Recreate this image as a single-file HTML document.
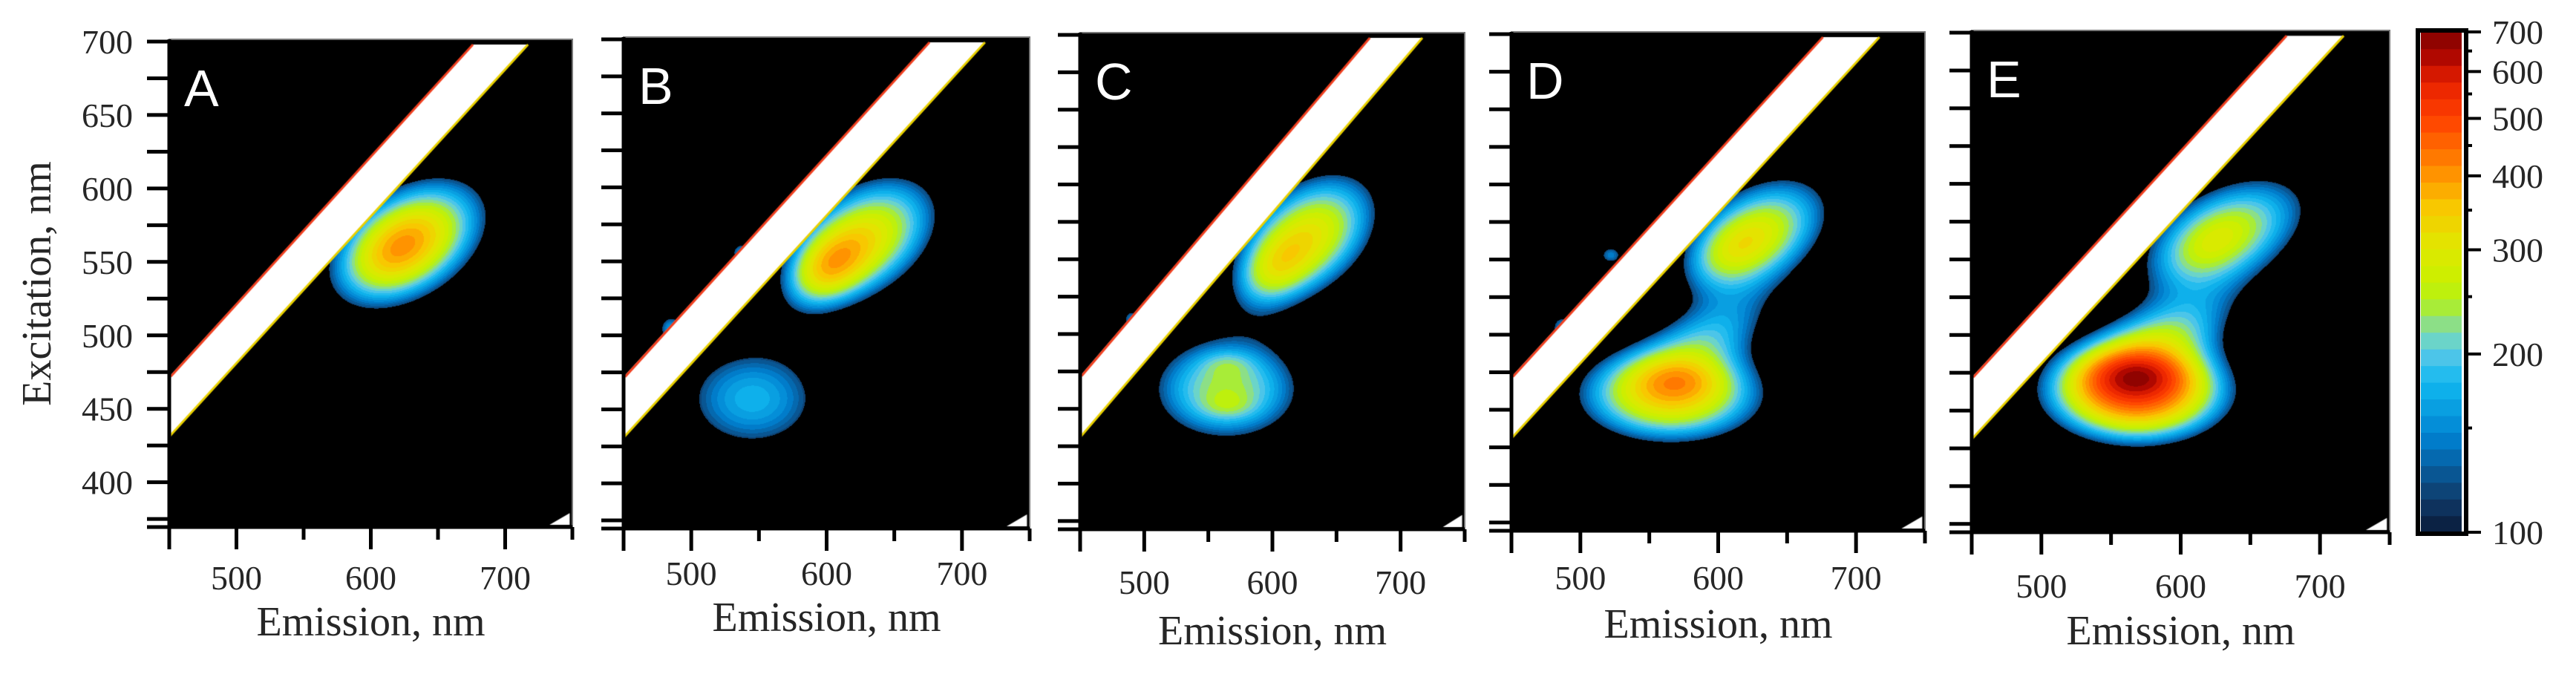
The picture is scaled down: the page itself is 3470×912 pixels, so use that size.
<!DOCTYPE html>
<html><head><meta charset="utf-8">
<style>
html,body{margin:0;padding:0;background:#fff;}
#wrap{position:relative;width:3470px;height:912px;overflow:hidden;background:#fff;}
canvas{position:absolute;}
svg{position:absolute;left:0;top:0;}
text{font-family:"Liberation Serif",serif;fill:#262626;}
</style></head>
<body>
<div id="wrap">
<svg id="ov" width="3470" height="912"></svg>
</div>
<script>
// ---- data ----
const panelNames = ['A','B','C','D','E'];
const xTickValues = [450,500,550,600,650,700,750];
const xTickLabels = ['500','600','700'];
const yTickValues = [375,400,425,450,475,500,525,550,575,600,625,650,675,700];
const yTickLabels = ['400','450','500','550','600','650','700'];
const cbTickValues = [100,150,200,250,300,350,400,450,500,550,600,650,700];
const cbTickLabels = ['100','200','300','400','500','600','700'];
const scatterLower = -19;   // Rayleigh band: excitation - emission offsets (nm)
const scatterUpper = 22;
// fluorescence components per panel (summed): emission centre, excitation centre, peak intensity, em width, ex width, tilt
const compEm  = [[628,618],
                 [628,600,545,537,485],
                 [628,600,564,565,565,490],
                 [628,610,566,571,595,522,487],
                 [632,620,569,568,590,540,495]];
const compEx  = [[563,558],
                 [565,545,457,556,505],
                 [565,542,463,480,452,510],
                 [566,556,460,470,500,553,505],
                 [566,560,463,473,500,550,505]];
const compAmp = [[330,80],
                 [300,170,175,140,140],
                 [300,110,240,35,35,130],
                 [270,70,330,80,130,140,140],
                 [250,50,480,180,150,150,140]];
const compWEm = [[40,22],
                 [38,20,44,7,8],
                 [38,20,44,14,14,7],
                 [38,20,46,22,35,8,8],
                 [44,20,42,22,38,9,8]];
const compWEx = [[28,16],
                 [28,16,30,6,8],
                 [28,16,26,6,6,7],
                 [26,14,22,10,18,6,8],
                 [26,14,22,10,18,6,8]];
const compTilt= [[0.3,0.3],
                 [0.3,0.3,0,0,0],
                 [0.3,0.3,0,0,0,0],
                 [0.3,0.3,0,0,0.3,0,0],
                 [0.3,0.3,0,0,0.3,0,0]];

// ---- layout ----
const frames = [
 {L:228,R:771,T:53,B:710,tl:68,el:128},
 {L:840,R:1387,T:50,B:712,tl:60,el:120},
 {L:1455,R:1973,T:44,B:713,tl:71,el:137},
 {L:2036,R:2593,T:43,B:715,tl:63,el:126},
 {L:2656,R:3219,T:41,B:717,tl:72,el:133}
];
const emMin=450, emMax=750, exMin=369.5, exMax=701.5;
const cb = {L:3261,R:3316,T:43,B:717};
const cbStops=[[0,'#0a1a38'],[0.07,'#0f3c6c'],[0.19,'#0080d0'],[0.3,'#10b8f0'],[0.36,'#58c8e8'],[0.39,'#70d8c0'],[0.42,'#90e080'],[0.46,'#b0f020'],[0.5,'#c8f000'],[0.57,'#e0e800'],[0.65,'#f8c800'],[0.71,'#ff9800'],[0.77,'#ff6a00'],[0.83,'#ff4000'],[0.9,'#e82000'],[0.95,'#b00800'],[1,'#800000']];
function hex(c){return [parseInt(c.substr(1,2),16),parseInt(c.substr(3,2),16),parseInt(c.substr(5,2),16)];}
const stopsRGB=cbStops.map(s=>[s[0],hex(s[1])]);
function tOf(v){return Math.log(v/100)/Math.log(7);}
function cmap(t){
  t=Math.max(0,Math.min(1,t));
  t=(Math.floor(t*30)+0.5)/30;
  for(let i=1;i<stopsRGB.length;i++){
    if(t<=stopsRGB[i][0]){const a=stopsRGB[i-1],b=stopsRGB[i];const f=(t-a[0])/(b[0]-a[0]);
      return [0,1,2].map(k=>Math.round(a[1][k]+(b[1][k]-a[1][k])*f));}
  }
  return stopsRGB[stopsRGB.length-1][1];
}
const NS='http://www.w3.org/2000/svg';
const ov=document.getElementById('ov');
function el(tag,attrs,parent){const e=document.createElementNS(NS,tag);for(const k in attrs)e.setAttribute(k,attrs[k]);(parent||ov).appendChild(e);return e;}
const wrap=document.getElementById('wrap');

frames.forEach((f,p)=>{
  const xs=v=>f.L+(v-emMin)/(emMax-emMin)*(f.R-f.L);
  const ys=v=>f.B-(v-exMin)/(exMax-exMin)*(f.B-f.T);
  const W=f.R-f.L, H=f.B-f.T;
  const cv=document.createElement('canvas');
  cv.width=W;cv.height=H;cv.style.left=f.L+'px';cv.style.top=f.T+'px';
  
  
  wrap.insertBefore(cv,ov);
  const ctx=cv.getContext('2d');
  const img=ctx.createImageData(W,H);
  for(let py=0;py<H;py++){
    const ex=exMax-(py+0.5)/H*(exMax-exMin);
    for(let px=0;px<W;px++){
      const em=emMin+(px+0.5)/W*(emMax-emMin);
      let v=0;
      for(let c=0;c<compEm[p].length;c++){
        const dem=em-compEm[p][c];
        const dex=(ex-compEx[p][c])-compTilt[p][c]*dem;
        const dx=dem/compWEm[p][c], dy=dex/compWEx[p][c];
        v+=compAmp[p][c]*Math.exp(-0.5*(dx*dx+dy*dy));
      }
      const i=(py*W+px)*4;
      if(v<118){img.data[i]=0;img.data[i+1]=0;img.data[i+2]=0;}
      else{const c=cmap(tOf(v));img.data[i]=c[0];img.data[i+1]=c[1];img.data[i+2]=c[2];}
      img.data[i+3]=255;
    }
  }
  ctx.putImageData(img,0,0);
  // Rayleigh scatter band
  const topEx=698;
  const pts=[[emMin,emMin+scatterLower],[topEx-scatterLower,topEx],[topEx-scatterUpper,topEx],[emMin,emMin+scatterUpper]];
  ctx.beginPath();
  pts.forEach((q,i)=>{const X=xs(q[0])-f.L,Y=ys(q[1])-f.T;i?ctx.lineTo(X,Y):ctx.moveTo(X,Y);});
  ctx.closePath();ctx.fillStyle='#fff';ctx.fill();
  ctx.lineWidth=3;
  ctx.strokeStyle='#f04020';ctx.beginPath();ctx.moveTo(xs(emMin)-f.L+2,ys(emMin+scatterUpper)-f.T);ctx.lineTo(xs(topEx-scatterUpper)-f.L,ys(topEx)-f.T);ctx.stroke();
  ctx.strokeStyle='#e8d000';ctx.beginPath();ctx.moveTo(xs(emMin)-f.L,ys(emMin+scatterLower)-f.T);ctx.lineTo(xs(topEx-scatterLower)-f.L,ys(topEx)-f.T);ctx.stroke();
  ctx.fillStyle='#fff';ctx.beginPath();ctx.moveTo(xs(733)-f.L,ys(371)-f.T);ctx.lineTo(xs(748)-f.L,ys(379)-f.T);ctx.lineTo(xs(748)-f.L,ys(371)-f.T);ctx.closePath();ctx.fill();

  const g=el('g',{});
  
  
  const fr=el('rect',{x:f.L,y:f.T,width:W,height:H,fill:'none',stroke:'#777','stroke-width':2},g);
  
  
  const ya=el('line',{x1:f.L,y1:f.T,x2:f.L,y2:f.B+30,stroke:'#000','stroke-width':5},g);
  
  
  const xa=el('line',{x1:f.L-30,y1:f.B,x2:f.R,y2:f.B,stroke:'#000','stroke-width':5},g);
  
  
  yTickValues.forEach(v=>{
    const t=el('line',{x1:f.L-30,x2:f.L,y1:ys(v),y2:ys(v),stroke:'#000','stroke-width':5},g);
    
    
  });
  xTickValues.forEach(v=>{
    const major=(v%100===0);
    const t=el('line',{x1:xs(v),x2:xs(v),y1:f.B,y2:f.B+(major?30:17),stroke:'#000','stroke-width':5},g);
    
    
  });
  xTickLabels.forEach(s=>{
    const t=el('text',{x:xs(+s),y:f.B+f.tl+16,'text-anchor':'middle','font-size':46},g);
    t.textContent=s;
    
    
  });
  const xt=el('text',{x:(f.L+f.R)/2,y:f.B+f.el+18,'text-anchor':'middle','font-size':56},g);
  xt.textContent='Emission, nm';
  
  
  const lt=el('text',{x:f.L+20,y:f.T+90,'font-size':70,style:'font-family:"Liberation Sans",sans-serif;fill:#fff'},g);
  lt.textContent=panelNames[p];
  
  
  if(p===0){
    yTickLabels.forEach(s=>{
      const t=el('text',{x:179,y:ys(+s)+16,'text-anchor':'end','font-size':46},g);
      t.textContent=s;
      
      
    });
  }
});
const yt=el('text',{x:0,y:0,transform:'translate(68,382) rotate(-90)','text-anchor':'middle','font-size':56});
yt.textContent='Excitation, nm';



// colorbar
const cbg=el('g',{});


const cys=v=>cb.B-tOf(v)*(cb.B-cb.T);
for(let i=0;i<30;i++){
  const t0=i/30,t1=(i+1)/30;
  const c=cmap((t0+t1)/2);
  const r=el('rect',{x:cb.L,y:cb.B-t1*(cb.B-cb.T),width:cb.R-cb.L,height:(t1-t0)*(cb.B-cb.T)+0.8,fill:'rgb('+c.join(',')+')'},cbg);
  
  
}
const cbf=el('rect',{x:cb.L-4,y:cb.T-2,width:cb.R-cb.L+10,height:cb.B-cb.T+4,fill:'none',stroke:'#000','stroke-width':6},cbg);


cbTickValues.forEach(v=>{
  const major=(v%100===0);
  const t=el('line',{x1:cb.R+6,x2:cb.R+(major?26:14),y1:cys(v),y2:cys(v),stroke:'#000','stroke-width':4},cbg);
  
  
});
cbTickLabels.forEach(s=>{
  const t=el('text',{x:3357,y:cys(+s)+16,'font-size':46},cbg);
  t.textContent=s;
  
  
});
</script>
</body></html>
